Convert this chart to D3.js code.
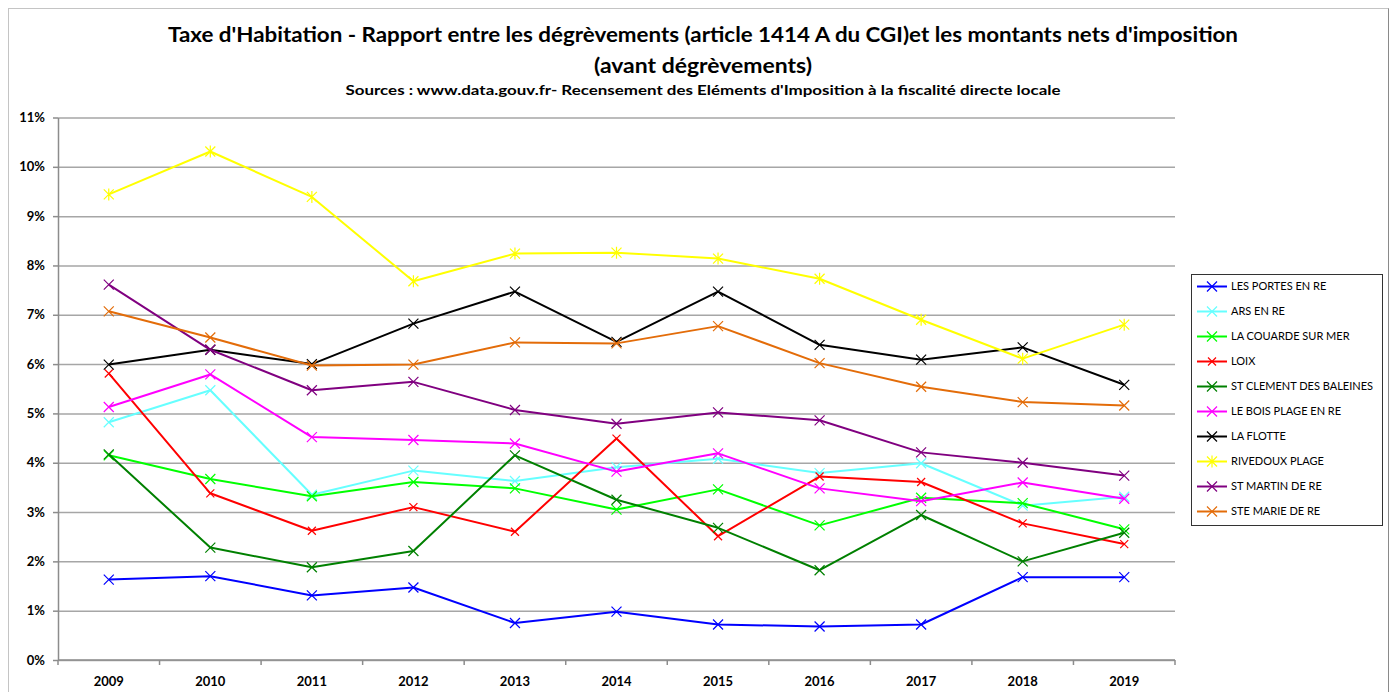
<!DOCTYPE html>
<html>
<head>
<meta charset="utf-8">
<script src="https://cdn.jsdelivr.net/npm/d3@7/dist/d3.min.js"></script>
<style>
  body { margin: 0; background: #fff; }
  svg { display: block; font-family: Lato, "Open Sans", sans-serif; }
</style>
</head>
<body>
<svg id="chart" width="1394" height="692"></svg>
<script>
// years on the x axis
const years = ['2009', '2010', '2011', '2012', '2013', '2014', '2015', '2016', '2017', '2018', '2019'];

// ratio in %, one array per commune
const lesPortes  = [1.63, 1.70, 1.31, 1.47, 0.75, 0.98, 0.72, 0.68, 0.72, 1.68, 1.68];
const arsEnRe    = [4.82, 5.47, 3.35, 3.84, 3.63, 3.91, 4.08, 3.79, 3.99, 3.13, 3.31];
const laCouarde  = [4.15, 3.67, 3.32, 3.61, 3.48, 3.05, 3.46, 2.73, 3.29, 3.18, 2.65];
const loix       = [5.81, 3.38, 2.62, 3.10, 2.60, 4.49, 2.51, 3.72, 3.61, 2.77, 2.35];
const stClement  = [4.17, 2.28, 1.88, 2.21, 4.15, 3.25, 2.68, 1.82, 2.94, 2.00, 2.58];
const leBois     = [5.13, 5.79, 4.52, 4.46, 4.39, 3.82, 4.19, 3.48, 3.22, 3.60, 3.27];
const laFlotte   = [5.99, 6.29, 6.00, 6.82, 7.47, 6.45, 7.47, 6.39, 6.09, 6.34, 5.58];
const rivedoux   = [9.44, 10.31, 9.39, 7.68, 8.24, 8.26, 8.14, 7.73, 6.90, 6.11, 6.80];
const stMartin   = [7.61, 6.29, 5.47, 5.64, 5.07, 4.79, 5.02, 4.86, 4.21, 4.00, 3.74];
const steMarie   = [7.07, 6.54, 5.97, 5.99, 6.44, 6.42, 6.77, 6.02, 5.54, 5.23, 5.16];

const names = ['LES PORTES EN RE', 'ARS EN RE', 'LA COUARDE SUR MER', 'LOIX', 'ST CLEMENT DES BALEINES',
  'LE BOIS PLAGE EN RE', 'LA FLOTTE', 'RIVEDOUX PLAGE', 'ST MARTIN DE RE', 'STE MARIE DE RE'];
const yTicks = [0, 1, 2, 3, 4, 5, 6, 7, 8, 9, 10, 11];

const values = [lesPortes, arsEnRe, laCouarde, loix, stClement, leBois, laFlotte, rivedoux, stMartin, steMarie];
const colors = ['#0000ff', '#66ffff', '#00ff00', '#ff0000', '#008000', '#ff00ff', '#000000', '#ffff00', '#800080', '#e36c09'];

const series = names.map((n, i) => ({ name: n, values: values[i], color: colors[i], star: i === 7, size: i === 3 ? 4 : 5 }));

const svg = d3.select('#chart');
const plot = { left: 58, right: 1175, top: 117.5, bottom: 660 };

// frame
svg.append('rect')
  .attr('x', 8.5).attr('y', 8.5).attr('width', 1380).attr('height', 700)
  .attr('fill', 'none').attr('stroke', '#c4c4c4');
svg.append('line')
  .attr('x1', 1388.5).attr('x2', 1388.5).attr('y1', 8.5).attr('y2', 692)
  .attr('stroke', '#8a8a8a');

// titles
const titles = [
  { text: "Taxe d'Habitation - Rapport entre les dégrèvements (article 1414 A du CGI)et les montants nets d'imposition", y: 42, size: 21, len: 1070 },
  { text: '(avant dégrèvements)', y: 73, size: 21, len: 218 },
  { text: "Sources : www.data.gouv.fr- Recensement des Eléments d'Imposition à la fiscalité directe locale", y: 95, size: 14, len: 715 }
];
svg.selectAll('.title').data(titles).join('text')
  .attr('class', 'title')
  .attr('x', 703).attr('y', d => d.y)
  .attr('text-anchor', 'middle')
  .attr('font-size', d => d.size)
  .attr('font-weight', 'bold')
  .attr('textLength', d => d.len)
  .attr('lengthAdjust', 'spacingAndGlyphs')
  .text(d => d.text);

const x = d3.scaleBand().domain(years).range([plot.left, plot.right]).padding(0);
const y = d3.scaleLinear().domain([0, 11]).range([plot.bottom, plot.top]);
const cx = d => x(d) + x.bandwidth() / 2;

// gridlines
svg.append('g')
  .attr('transform', `translate(${plot.left},0)`)
  .call(d3.axisLeft(y).tickValues(yTicks).tickSize(-(plot.right - plot.left)).tickFormat(''))
  .call(g => g.select('.domain').remove())
  .call(g => g.selectAll('line').attr('stroke', '#a6a6a6').attr('stroke-width', 1.5));

// y axis
svg.append('g')
  .attr('transform', `translate(${plot.left},0)`)
  .call(d3.axisLeft(y).tickValues(yTicks).tickSize(5).tickSizeOuter(0).tickPadding(8).tickFormat(d => d + '%'))
  .call(g => g.select('.domain').attr('stroke', '#8c8c8c').attr('stroke-width', 1.5))
  .call(g => g.selectAll('line').attr('stroke', '#8c8c8c').attr('stroke-width', 1.5))
  .call(g => g.selectAll('text').attr('font-size', 13).attr('font-weight', 'bold').attr('fill', '#000')
    .attr('font-family', 'Lato, sans-serif'));

// x axis, ticks on category boundaries
const xAxis = svg.append('g')
  .attr('transform', `translate(0,${plot.bottom})`);
xAxis.append('line')
  .attr('x1', plot.left).attr('x2', plot.right).attr('stroke', '#8c8c8c').attr('stroke-width', 1.5);
xAxis.selectAll('.bt').data(years.concat(['end'])).join('line')
  .attr('class', 'bt')
  .attr('x1', (d, i) => i < years.length ? x(d) : plot.right)
  .attr('x2', (d, i) => i < years.length ? x(d) : plot.right)
  .attr('y1', 0).attr('y2', 5)
  .attr('stroke', '#8c8c8c').attr('stroke-width', 1.5);
xAxis.selectAll('.lbl').data(years).join('text')
  .attr('class', 'lbl')
  .attr('x', d => cx(d)).attr('y', 26)
  .attr('text-anchor', 'middle')
  .attr('font-size', 13).attr('font-weight', 'bold')
  .text(d => d);

// marker path: an X, plus a vertical bar for the star
function marker(s) {
  const r = s.size;
  let p = `M${-r},${-r}L${r},${r}M${-r},${r}L${r},${-r}`;
  if (s.star) p += `M0,${-r - 1}L0,${r + 1}`;
  return p;
}

const line = d3.line().x((d, i) => cx(years[i])).y(d => y(d));

const g = svg.append('g');
series.forEach(s => {
  g.append('path')
    .attr('d', line(s.values))
    .attr('fill', 'none')
    .attr('stroke', s.color)
    .attr('stroke-width', 2)
    .attr('stroke-linejoin', 'round');
  g.selectAll(null).data(s.values).join('path')
    .attr('transform', (d, i) => `translate(${cx(years[i])},${y(d)})`)
    .attr('d', marker(s))
    .attr('fill', 'none')
    .attr('stroke', s.color)
    .attr('stroke-width', 1.2);
});

// legend
const legend = svg.append('g').attr('transform', 'translate(1191,274)');
legend.append('rect')
  .attr('x', 0.5).attr('y', 0.5).attr('width', 191).attr('height', 251)
  .attr('fill', '#fff').attr('stroke', '#333').attr('stroke-width', 1);
const item = legend.selectAll('.item').data(series).join('g')
  .attr('class', 'item')
  .attr('transform', (d, i) => `translate(0,${12.5 + i * 25})`);
item.append('line')
  .attr('x1', 6).attr('x2', 36)
  .attr('stroke', d => d.color).attr('stroke-width', 2);
item.append('path')
  .attr('transform', 'translate(21,0)')
  .attr('d', d => marker(d))
  .attr('fill', 'none')
  .attr('stroke', d => d.color)
  .attr('stroke-width', 1.2);
item.append('text')
  .attr('x', 40).attr('dy', '0.36em')
  .attr('font-size', 11)
  .text(d => d.name);
</script>
</body>
</html>
